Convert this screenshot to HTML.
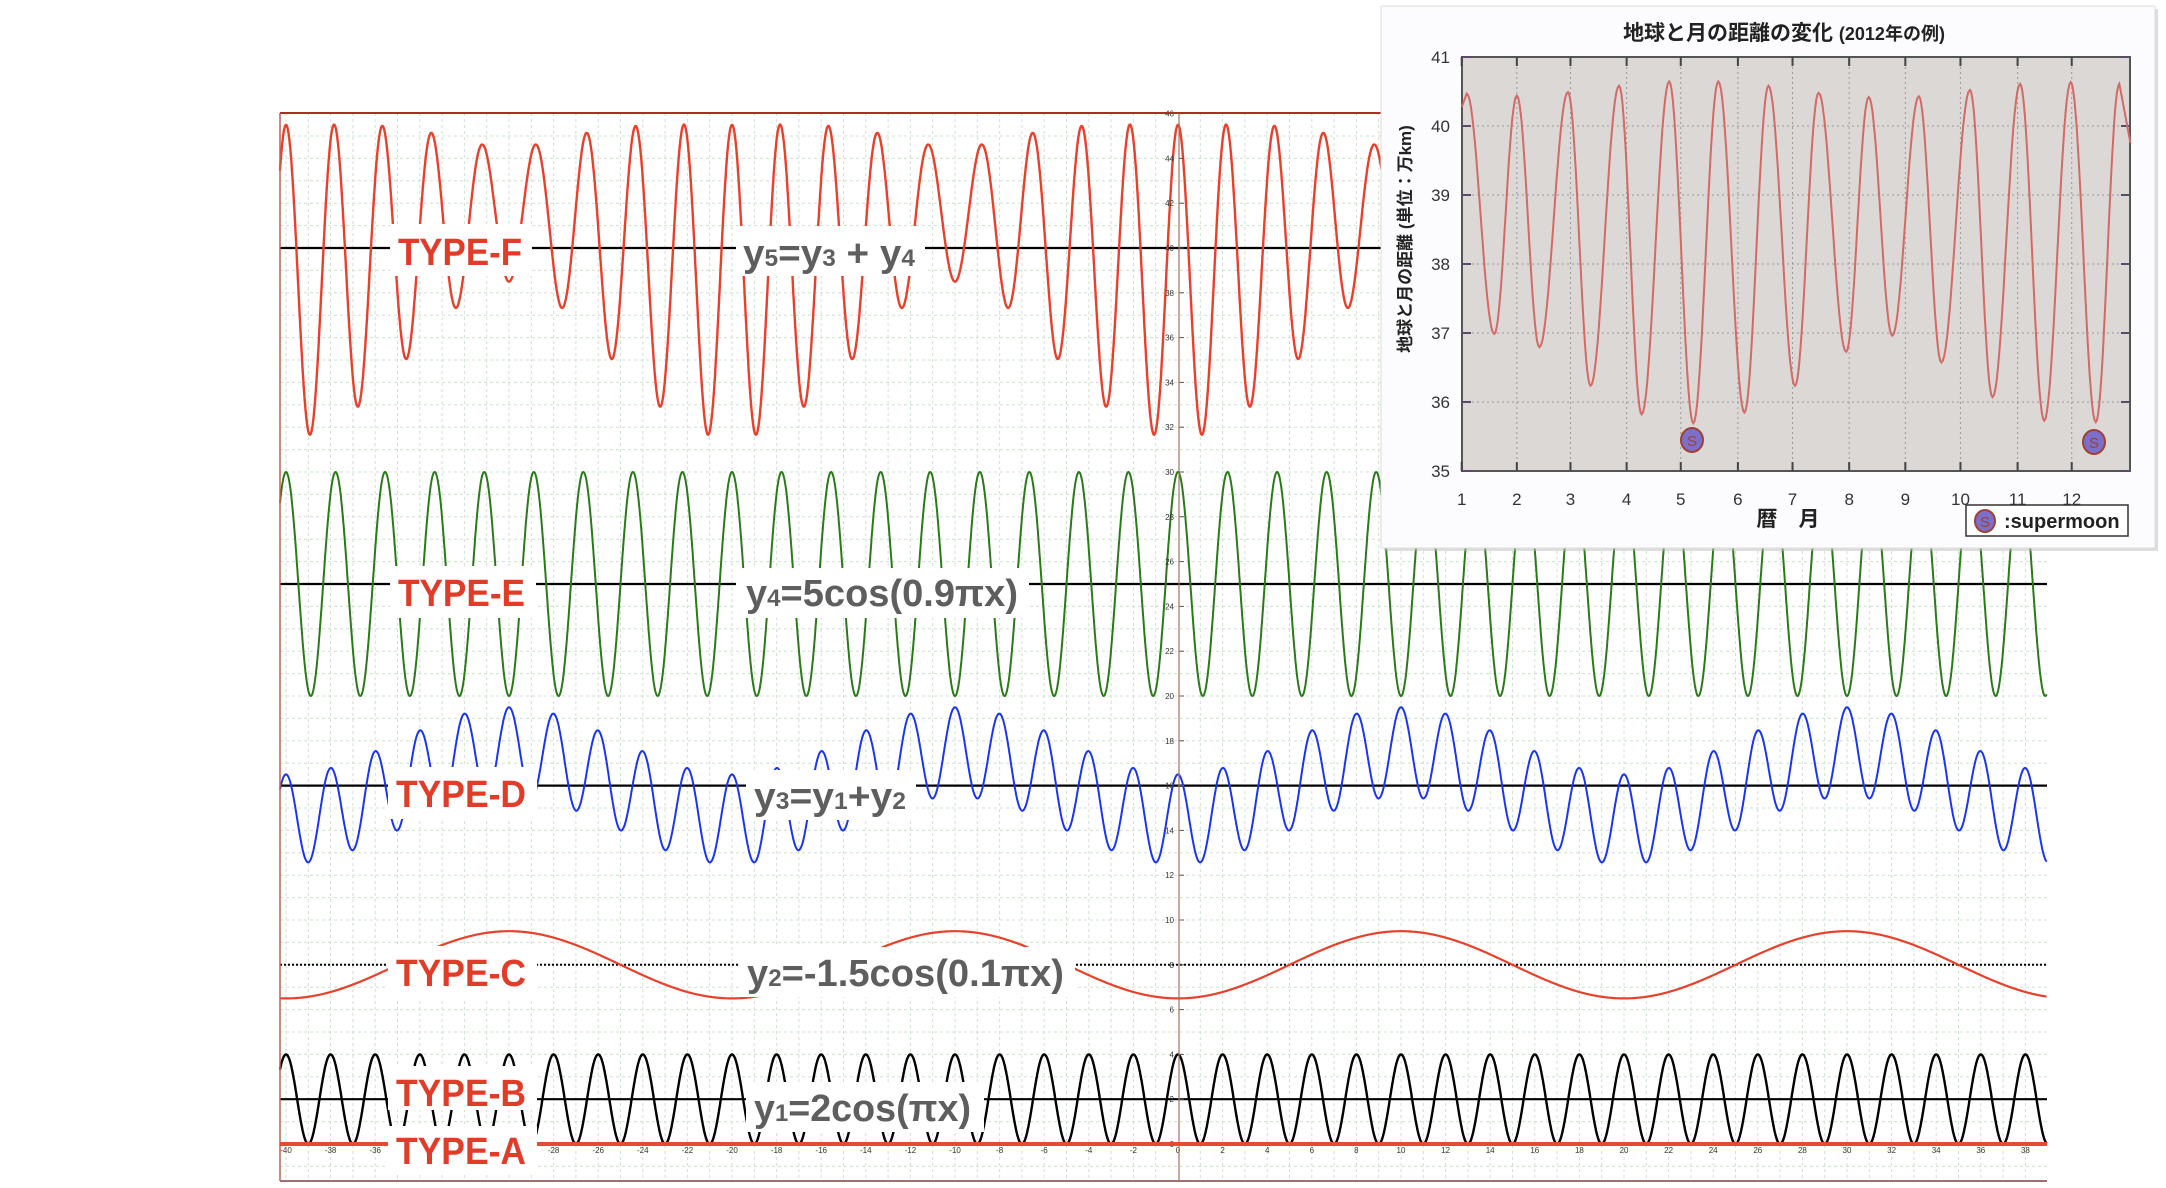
<!DOCTYPE html>
<html><head><meta charset="utf-8">
<style>
html,body{margin:0;padding:0;background:#fff;width:2166px;height:1188px;overflow:hidden}
svg{display:block}
.t{font-family:"Liberation Sans",sans-serif;font-weight:bold;font-size:38px;fill:#e03c28}
.f{font-family:"Liberation Sans",sans-serif;font-weight:bold;font-size:38px;fill:#5e5e5e}
.s{font-size:24px}
.tk{font-family:"Liberation Sans",sans-serif;font-size:8px;fill:#333}
.ij{font-family:"Liberation Sans","Noto Sans CJK JP",sans-serif;font-weight:bold;fill:#222}
.il{font-family:"Liberation Sans",sans-serif;font-size:17px;fill:#333}
</style></head><body>
<svg id="s" width="2166" height="1188" viewBox="0 0 2166 1188" xmlns="http://www.w3.org/2000/svg">
<g id="grid"></g>
<g id="base"></g>
<g id="curves" fill="none"></g>
<g id="ticks"></g>
<line x1="280" y1="113" x2="2047" y2="113" stroke="#a83020" stroke-width="2"/>
<line x1="280" y1="113" x2="280" y2="1181" stroke="#c06050" stroke-width="1.5"/>
<line x1="280" y1="1181" x2="2047" y2="1181" stroke="#a07070" stroke-width="2"/>
<line x1="1179" y1="113" x2="1179" y2="1181" stroke="#a07060" stroke-width="1.2"/>
<line x1="280" y1="1144" x2="2047" y2="1144" stroke="#e84a30" stroke-width="4"/>
<g id="labels">
<rect x="390" y="224" width="142" height="52" fill="#fff"/>
<text class="t" x="398" y="265" textLength="124" lengthAdjust="spacingAndGlyphs">TYPE-F</text>
<rect x="736" y="226" width="189" height="50" fill="#fff"/>
<text class="f" x="743" y="266" textLength="172" lengthAdjust="spacingAndGlyphs">y<tspan class="s">5</tspan>=y<tspan class="s">3</tspan> + y<tspan class="s">4</tspan></text>

<rect x="390" y="566" width="146" height="52" fill="#fff"/>
<text class="t" x="398" y="606" textLength="127" lengthAdjust="spacingAndGlyphs">TYPE-E</text>
<rect x="736" y="568" width="293" height="50" fill="#fff"/>
<text class="f" x="746" y="606" textLength="272" lengthAdjust="spacingAndGlyphs">y<tspan class="s">4</tspan>=5cos(0.9πx)</text>

<rect x="388" y="767" width="149" height="52" fill="#fff"/>
<text class="t" x="396" y="807" textLength="130" lengthAdjust="spacingAndGlyphs">TYPE-D</text>
<rect x="746" y="770" width="170" height="50" fill="#fff"/>
<text class="f" x="754" y="809" textLength="152" lengthAdjust="spacingAndGlyphs">y<tspan class="s">3</tspan>=y<tspan class="s">1</tspan>+y<tspan class="s">2</tspan></text>

<rect x="388" y="946" width="149" height="52" fill="#fff"/>
<text class="t" x="396" y="986" textLength="130" lengthAdjust="spacingAndGlyphs">TYPE-C</text>
<rect x="739" y="947" width="336" height="50" fill="#fff"/>
<text class="f" x="747" y="986" textLength="317" lengthAdjust="spacingAndGlyphs">y<tspan class="s">2</tspan>=-1.5cos(0.1πx)</text>

<rect x="388" y="1066" width="149" height="44" fill="#fff"/>
<text class="t" x="396" y="1106" textLength="130" lengthAdjust="spacingAndGlyphs">TYPE-B</text>
<rect x="388" y="1126" width="149" height="48" fill="#fff"/>
<text class="t" x="396" y="1164" textLength="130" lengthAdjust="spacingAndGlyphs">TYPE-A</text>
<rect x="746" y="1082" width="238" height="50" fill="#fff"/>
<text class="f" x="754" y="1121" textLength="217" lengthAdjust="spacingAndGlyphs">y<tspan class="s">1</tspan>=2cos(πx)</text>
</g>

<!-- inset -->
<rect x="1384" y="9" width="774" height="542" fill="#bbb" opacity="0.5"/>
<rect x="1381" y="6" width="774" height="542" fill="#fcfbfd" stroke="#ddd"/>
<rect x="1462" y="57" width="668" height="414" fill="#dcd8d6" stroke="#555" stroke-width="2"/>
<g id="igrid"></g>
<path id="moon" fill="none" stroke="#d26a66" stroke-width="2"/>
<g id="ilab"></g>
<text class="ij" x="1784" y="40" text-anchor="middle" font-size="21">地球と月の距離の変化 <tspan font-size="18">(2012年の例)</tspan></text>
<text class="ij" font-size="17" text-anchor="middle" transform="translate(1411,239) rotate(-90)">地球と月の距離 (単位：万km)</text>
<text class="ij" x="1788" y="526" text-anchor="middle" font-size="21">暦　月</text>
<rect x="1966" y="505" width="162" height="31" fill="#fff" stroke="#333" stroke-width="1.5"/>
<ellipse cx="1985" cy="521" rx="10" ry="11" fill="#7a70cc" stroke="#a04030" stroke-width="2"/>
<text x="1985" y="527" text-anchor="middle" font-family="Liberation Sans" font-size="15" fill="#a04030">S</text>
<text x="2004" y="528" font-family="Liberation Sans" font-weight="bold" font-size="20" fill="#222">:supermoon</text>
<ellipse cx="1692" cy="440" rx="11" ry="12" fill="#7a70cc" stroke="#a04030" stroke-width="2"/>
<text x="1692" y="446" text-anchor="middle" font-family="Liberation Sans" font-size="15" fill="#a04030">S</text>
<ellipse cx="2094" cy="442" rx="11" ry="12" fill="#7a70cc" stroke="#a04030" stroke-width="2"/>
<text x="2094" y="448" text-anchor="middle" font-family="Liberation Sans" font-size="15" fill="#a04030">S</text>
</svg>
<script>
(function(){
var NS="http://www.w3.org/2000/svg";
function el(p,t,a){var e=document.createElementNS(NS,t);for(var k in a)e.setAttribute(k,a[k]);p.appendChild(e);return e;}
var X=function(x){return 1178+22.3*x},Y=function(y){return 1144-22.4*y};
var g=document.getElementById('grid');
for(var i=-40;i<=38;i++){if(i==0)continue;el(g,'line',{x1:X(i),y1:113,x2:X(i),y2:1181,stroke:'#cfe0cf','stroke-width':1,'stroke-dasharray':'3,3'});}
for(var j=-1;j<=46;j++){el(g,'line',{x1:280,y1:Y(j),x2:2047,y2:Y(j),stroke:'#cfe0cf','stroke-width':1,'stroke-dasharray':'3,3'});}
var b=document.getElementById('base');
[[40,0],[25,0],[16,0],[2,0]].forEach(function(v){el(b,'line',{x1:280,y1:Y(v[0]),x2:2047,y2:Y(v[0]),stroke:'#000','stroke-width':2.2});});
el(b,'line',{x1:280,y1:Y(8),x2:2047,y2:Y(8),stroke:'#000','stroke-width':2,'stroke-dasharray':'2,2'});
var c=document.getElementById('curves');
function y1(x){return 2*Math.cos(Math.PI*x)}
function y2(x){return -1.5*Math.cos(0.1*Math.PI*x)}
function y4(x){return 5*Math.cos(0.9*Math.PI*x)}
function curve(f,off,col,w){var d='';var x0=(280-1178)/22.3,x1=(2047-1178)/22.3;for(var x=x0;x<=x1;x+=0.02){d+=(d?'L':'M')+X(x).toFixed(1)+','+Y(off+f(x)).toFixed(1);}el(c,'path',{d:d,stroke:col,'stroke-width':w});}
curve(function(x){return y1(x)+y2(x)+y4(x)},40,'#e8402a',2.4);
curve(y4,25,'#2a7a1a',2);
curve(function(x){return y1(x)+y2(x)},16,'#1a35f0',2);
curve(y2,8,'#e8402a',2.2);
curve(y1,2,'#000',2.4);
var tk=document.getElementById('ticks');
for(var i=-40;i<=38;i+=2){var t=el(tk,'text',{x:X(i),y:1153,'text-anchor':'middle','class':'tk'});t.textContent=i;}
for(var j=0;j<=46;j+=2){var t=el(tk,'text',{x:1174,y:Y(j)+3,'text-anchor':'end','class':'tk'});t.textContent=j;el(tk,'line',{x1:1179,y1:Y(j),x2:1184,y2:Y(j),stroke:'#555'});}
var ig=document.getElementById('igrid'),il=document.getElementById('ilab');
var mx=[163,273,380,492,600,714,823,936,1048,1158,1272,1380];
mx.forEach(function(z,i){var x=1380+z/1.995;if(i>0)el(ig,'line',{x1:x,y1:57,x2:x,y2:471,stroke:'#999','stroke-dasharray':'2,3'});el(ig,'line',{x1:x,y1:57,x2:x,y2:66,stroke:'#444','stroke-width':2});el(ig,'line',{x1:x,y1:462,x2:x,y2:471,stroke:'#444','stroke-width':2});var t=el(il,'text',{x:x,y:505,'text-anchor':'middle','class':'il'});t.textContent=i+1;});
for(var v=35;v<=41;v++){var y=57+(41-v)*69;if(v>35&&v<41)el(ig,'line',{x1:1462,y1:y,x2:2130,y2:y,stroke:'#999','stroke-dasharray':'2,3'});el(ig,'line',{x1:1462,y1:y,x2:1471,y2:y,stroke:'#5a4a6a','stroke-width':2});el(ig,'line',{x1:2121,y1:y,x2:2130,y2:y,stroke:'#5a4a6a','stroke-width':2});var t=el(il,'text',{x:1450,y:y+6,'text-anchor':'end','class':'il'});t.textContent=v;}
var P=[[163,300],[173,262],[228,935],[273,268],[318,972],[375,258],[420,1080],[477,240],[522,1160],[577,228],[625,1185],[675,228],[727,1155],[775,240],[828,1080],[875,260],[930,985],[975,272],[1022,940],[1075,270],[1120,1015],[1177,252],[1222,1112],[1277,235],[1325,1178],[1378,230],[1428,1182],[1475,235],[1497,400]];
var d='';
for(var k=0;k<P.length-1;k++){var a=P[k],bb=P[k+1];for(var s=0;s<=20;s++){var u=s/20;var zx=a[0]+(bb[0]-a[0])*u;var w=(k==0||k==P.length-2)?u:(1-Math.cos(Math.PI*u))/2;var zy=a[1]+(bb[1]-a[1])*w;d+=(d?'L':'M')+(1380+zx/1.995).toFixed(1)+','+(zy/2.8).toFixed(1);}}
document.getElementById('moon').setAttribute('d',d);
})();
</script>
</body></html>
